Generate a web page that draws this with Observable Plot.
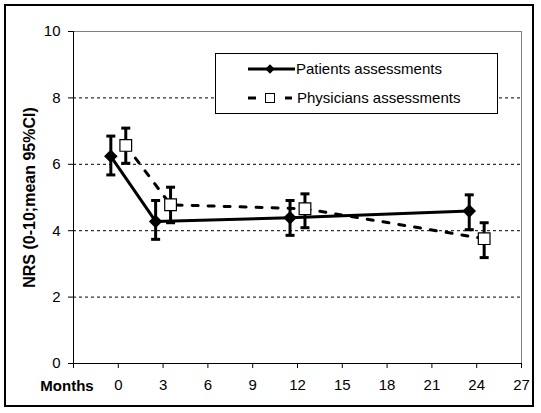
<!DOCTYPE html>
<html>
<head>
<meta charset="utf-8">
<script src="https://cdn.jsdelivr.net/npm/d3@7"></script>
<script src="https://cdn.jsdelivr.net/npm/@observablehq/plot@0.6"></script>
<style>
  html, body { margin: 0; padding: 0; background: #fff; }
  #chart svg { display: block; }
</style>
</head>
<body>
<div id="chart"></div>
<script>
// ---- data ----
const months = [0, 3, 12, 24];
const patientMean = [6.24, 4.28, 4.39, 4.59];
const patientLo   = [5.68, 3.74, 3.86, 4.03];
const patientHi   = [6.85, 4.91, 4.91, 5.08];
const physMean = [6.57, 4.78, 4.66, 3.76];
const physLo   = [6.03, 4.24, 4.09, 3.19];
const physHi   = [7.09, 5.31, 5.11, 4.24];
const xTicks = [-3, 0, 3, 6, 9, 12, 15, 18, 21, 24, 27];
const yTicks = [0, 2, 4, 6, 8, 10];
const gridY = [2, 4, 6, 8];
const seriesNames = ["Patients assessments", "Physicians assessments"];
const xTitle = "Months";
const yTitle = "NRS (0-10;mean 95%CI)";

// shift: patients half a month left, physicians half a month right
const patients = months.map((m, i) => ({x: m - 0.5, mean: patientMean[i], lo: patientLo[i], hi: patientHi[i]}));
const phys = months.map((m, i) => ({x: m + 0.5, mean: physMean[i], lo: physLo[i], hi: physHi[i]}));
const all = patients.concat(phys);

const FONT = "'Liberation Sans', Arial, sans-serif";
const cap = {draw(ctx) { ctx.moveTo(-4.5, 0); ctx.lineTo(4.5, 0); }};

const chart = Plot.plot({
  width: 541,
  height: 413,
  marginLeft: 73,
  marginRight: 20,
  marginTop: 31,
  marginBottom: 50,
  style: {fontFamily: FONT, fontSize: "15px", color: "#000", background: "#fff"},
  x: {domain: [-3, 27]},
  y: {domain: [0, 10]},
  marks: [
    Plot.ruleY(gridY, {stroke: "#000", strokeWidth: 1, strokeDasharray: "3,3"}),
    Plot.ruleY([10], {stroke: "#808080", strokeWidth: 1}),
    Plot.ruleX([27], {stroke: "#808080", strokeWidth: 1}),
    Plot.ruleX([-3], {stroke: "#000", strokeWidth: 1}),
    Plot.ruleY([0], {stroke: "#000", strokeWidth: 1}),
    Plot.axisY({ticks: yTicks, tickSize: 5, tickPadding: 8, fontSize: 15, label: null}),
    Plot.axisX({ticks: xTicks, tickSize: 5, tickPadding: 11, fontSize: 15, label: null,
                tickFormat: d => d === -3 ? "" : String(d)}),
    Plot.text([xTitle], {x: -3, y: 0, dx: -6.5, dy: 23, fontWeight: "bold", fontSize: 15, fill: "#000"}),
    Plot.text([yTitle], {frameAnchor: "left", textAnchor: "middle", rotate: -90, dx: -44, dy: 0,
                         fontWeight: "bold", fontSize: 16, fill: "#000"}),
    Plot.line(phys, {x: "x", y: "mean", stroke: "#000", strokeWidth: 3, strokeDasharray: "6,10"}),
    Plot.line(patients, {x: "x", y: "mean", stroke: "#000", strokeWidth: 3}),
    Plot.ruleX(all, {x: "x", y1: "lo", y2: "hi", stroke: "#000", strokeWidth: 3}),
    Plot.dot(all, {x: "x", y: "lo", symbol: cap, fill: "none", stroke: "#000", strokeWidth: 3, r: 4}),
    Plot.dot(all, {x: "x", y: "hi", symbol: cap, fill: "none", stroke: "#000", strokeWidth: 3, r: 4}),
    Plot.dot(patients, {x: "x", y: "mean", symbol: "diamond2", r: 6.1, fill: "#000", stroke: "none"}),
    Plot.dot(phys, {x: "x", y: "mean", symbol: "square", r: 6.6, fill: "#fff", stroke: "#000", strokeWidth: 1.2})
  ]
});

const svg = d3.select(chart);
// outer frame
svg.append("rect").attr("x", 5).attr("y", 5).attr("width", 528).attr("height", 401)
  .attr("fill", "none").attr("stroke", "#000").attr("stroke-width", 2);

// legend
const lg = svg.append("g").attr("font-family", FONT).attr("font-size", 15).attr("text-anchor", "start");
lg.append("rect").attr("x", 215.5).attr("y", 53.5).attr("width", 282).attr("height", 60)
  .attr("fill", "#fff").attr("stroke", "#000").attr("stroke-width", 1);
lg.append("line").attr("x1", 248).attr("x2", 295).attr("y1", 69).attr("y2", 69)
  .attr("stroke", "#000").attr("stroke-width", 3);
lg.append("path").attr("d", d3.symbol(d3.symbolDiamond2, 56)()).attr("transform", "translate(270,69)").attr("fill", "#000");
lg.append("text").attr("x", 296).attr("y", 69).attr("dy", "0.35em").attr("fill", "#000").text(seriesNames[0]);
lg.append("line").attr("x1", 248).attr("x2", 256).attr("y1", 98).attr("y2", 98)
  .attr("stroke", "#000").attr("stroke-width", 3);
lg.append("line").attr("x1", 285).attr("x2", 292).attr("y1", 98).attr("y2", 98)
  .attr("stroke", "#000").attr("stroke-width", 3);
lg.append("rect").attr("x", 265.5).attr("y", 93.5).attr("width", 9).attr("height", 9)
  .attr("fill", "#fff").attr("stroke", "#000").attr("stroke-width", 1);
lg.append("text").attr("x", 297).attr("y", 98).attr("dy", "0.35em").attr("fill", "#000").text(seriesNames[1]);

document.getElementById("chart").appendChild(chart);
</script>
</body>
</html>
